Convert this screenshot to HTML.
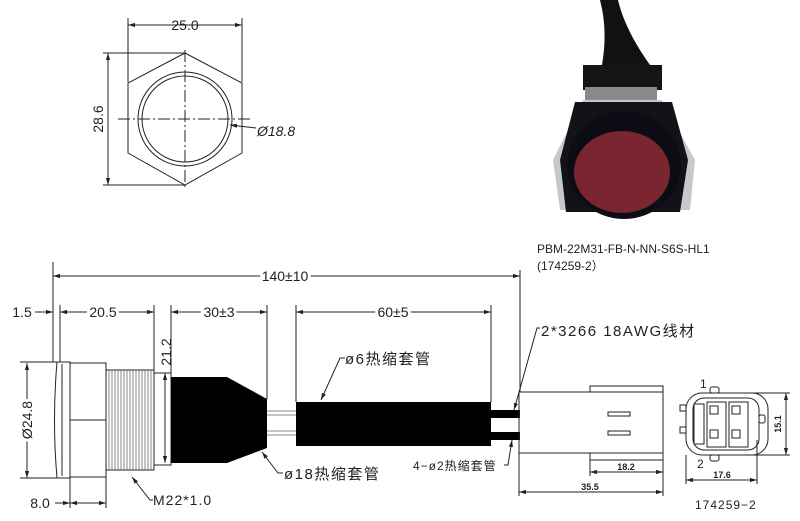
<!DOCTYPE html>
<html><head><meta charset="utf-8"><style>
html,body{margin:0;padding:0;background:#fff;}
svg{display:block}
text{font-family:"Liberation Sans","Noto Sans CJK SC",sans-serif;fill:#222}
</style></head><body>
<svg width="800" height="521" viewBox="0 0 800 521" xmlns="http://www.w3.org/2000/svg">
<defs>
<marker id="a" viewBox="0 0 10 10" refX="10" refY="5" markerWidth="7" markerHeight="7" orient="auto-start-reverse"><path d="M0,2 L10,5 L0,8 z" fill="#222"/></marker>
</defs>
<g stroke="#222" stroke-width="1" fill="none">
<line x1="128" y1="25" x2="242" y2="25" marker-start="url(#a)" marker-end="url(#a)"/>
<line x1="128" y1="18" x2="128" y2="82"/><line x1="242" y1="18" x2="242" y2="82"/>
<polygon points="185,53 242,83 242,153 185,185 128,153 128,83"/>
<circle cx="185" cy="119" r="47"/><circle cx="185" cy="119" r="43"/>
<line x1="108" y1="53" x2="108" y2="185" marker-start="url(#a)" marker-end="url(#a)"/>
<line x1="103" y1="53" x2="185" y2="53"/><line x1="103" y1="185" x2="185" y2="185"/>
<line x1="118" y1="119" x2="252" y2="119" stroke-dasharray="12,3,2,3"/>
<line x1="185" y1="50" x2="185" y2="190" stroke-dasharray="12,3,2,3"/>
<line x1="256" y1="128" x2="230" y2="125" marker-end="url(#a)"/>
</g>
<text x="185" y="30" font-size="14" text-anchor="middle">25.0</text>
<text transform="translate(103,119) rotate(-90)" font-size="14" text-anchor="middle">28.6</text>
<text x="257" y="136" font-size="14" font-style="italic">Ø18.8</text>

<!-- photo -->
<path d="M600,0 L618,0 Q625,30 650,65 L602,65 Q608,30 600,0 Z" fill="#111"/>
<rect x="583" y="65" width="79" height="25" fill="#151518"/>
<rect x="585" y="87" width="72" height="17" fill="#8a8a8c"/>
<polygon points="583,100 662,100 695,160 690,210 560,210 553,160" fill="#c8c8cc"/>
<polygon points="575,102 672,102 688,160 680,212 566,212 560,160" fill="#121218"/>
<ellipse cx="624" cy="165" rx="57" ry="54" fill="#0c0c14"/>
<ellipse cx="622" cy="172" rx="48" ry="41" fill="#7a2530"/>
<text x="537" y="253" font-size="12">PBM-22M31-FB-N-NN-S6S-HL1</text>
<text x="537" y="270" font-size="12">(174259-2）</text>

<g stroke="#222" stroke-width="1" fill="none">
<line x1="53" y1="276" x2="520" y2="276" marker-start="url(#a)" marker-end="url(#a)"/>
<line x1="53" y1="262" x2="53" y2="362"/><line x1="520" y1="270" x2="520" y2="392"/>
<line x1="35" y1="312" x2="53" y2="312" marker-end="url(#a)"/>
<line x1="60" y1="312" x2="154" y2="312" marker-start="url(#a)" marker-end="url(#a)"/>
<line x1="60" y1="305" x2="60" y2="362"/><line x1="154" y1="305" x2="154" y2="370"/>
<line x1="171" y1="312" x2="267" y2="312" marker-start="url(#a)" marker-end="url(#a)"/>
<line x1="171" y1="305" x2="171" y2="373"/><line x1="267" y1="305" x2="267" y2="399"/>
<line x1="296" y1="312" x2="491" y2="312" marker-start="url(#a)" marker-end="url(#a)"/>
<line x1="296" y1="305" x2="296" y2="402"/><line x1="491" y1="305" x2="491" y2="402"/>
<line x1="165" y1="373" x2="165" y2="463" marker-start="url(#a)" marker-end="url(#a)"/>
<path d="M57,362 L70,362 L70,478 L57,478 Q52,420 57,362 Z"/>
<line x1="62" y1="364" x2="62" y2="476"/>
<rect x="70" y="363" width="36" height="114"/><line x1="70" y1="420" x2="106" y2="420"/>
<rect x="106" y="370" width="48" height="100"/>
<rect x="154" y="373" width="17" height="92"/>
<line x1="27" y1="363" x2="27" y2="478" marker-start="url(#a)" marker-end="url(#a)"/>
<line x1="20" y1="362" x2="57" y2="362"/><line x1="20" y1="478" x2="57" y2="478"/>
<line x1="55" y1="503" x2="70" y2="503" marker-end="url(#a)"/>
<line x1="70" y1="503" x2="106" y2="503" marker-start="url(#a)" marker-end="url(#a)"/>
<line x1="70" y1="477" x2="70" y2="508"/><line x1="106" y1="477" x2="106" y2="508"/>
<line x1="267" y1="411" x2="296" y2="411" stroke="#888"/><line x1="267" y1="415" x2="296" y2="415" stroke="#888"/>
<line x1="267" y1="431" x2="296" y2="431" stroke="#888"/><line x1="267" y1="435" x2="296" y2="435" stroke="#888"/>
</g>
<g stroke="#666" stroke-width="0.8">
<path d="M109,370V470M112,370V470M115,370V470M118,370V470M121,370V470M124,370V470M127,370V470M130,370V470M133,370V470M136,370V470M139,370V470M142,370V470M145,370V470M148,370V470M151,370V470"/>
</g>
<polygon points="171,377 227,377 267,399 267,448 227,463 171,463" fill="#000"/>
<rect x="296" y="402" width="195" height="44" fill="#000"/>
<rect x="491" y="410" width="29" height="8" fill="#000"/>
<rect x="491" y="432" width="29" height="8" fill="#000"/>
<g stroke="#222" stroke-width="1" fill="none">
<rect x="519" y="392" width="144" height="61"/>
<path d="M590,392 V386 H663 V392 M590,453 V460 H663 V453"/>
<rect x="608" y="412" width="22" height="4"/><rect x="608" y="431" width="22" height="4"/>
<line x1="590" y1="472" x2="663" y2="472" marker-start="url(#a)" marker-end="url(#a)"/>
<line x1="590" y1="460" x2="590" y2="476"/><line x1="663" y1="460" x2="663" y2="496"/>
<line x1="519" y1="492" x2="663" y2="492" marker-start="url(#a)" marker-end="url(#a)"/>
<line x1="519" y1="453" x2="519" y2="496"/>
<rect x="686" y="393" width="82" height="62" rx="16"/>
<rect x="693" y="398" width="66" height="52" rx="11"/>
<path d="M694,404 h10 v40 h-10 z M707,402 h19 v45 h-19 z M729,402 h19 v45 h-19 z"/>
<rect x="710" y="406" width="8" height="8"/><rect x="732" y="406" width="8" height="8"/>
<rect x="710" y="430" width="8" height="8"/><rect x="732" y="430" width="8" height="8"/>
<rect x="710" y="387" width="9" height="6" rx="2"/><rect x="710" y="455" width="9" height="6" rx="2"/>
<rect x="680" y="405" width="6" height="6"/><rect x="680" y="427" width="6" height="6"/>
<rect x="759" y="415" width="6" height="8" rx="2"/>
<line x1="786" y1="393" x2="786" y2="455" marker-start="url(#a)" marker-end="url(#a)"/>
<line x1="740" y1="393" x2="790" y2="393"/><line x1="740" y1="455" x2="790" y2="455"/>
<line x1="686" y1="480" x2="757" y2="480" marker-start="url(#a)" marker-end="url(#a)"/>
<line x1="686" y1="455" x2="686" y2="484"/><line x1="757" y1="440" x2="757" y2="484"/>
<path d="M540,328 H537 L514,410" marker-end="url(#a)"/>
<path d="M504,465 H508 L512,440" marker-end="url(#a)"/>
<path d="M345,358 H340 L321,400" marker-end="url(#a)"/>
<path d="M283,473 H278 L262,452" marker-end="url(#a)"/>
<path d="M153,500 H150 L132,477" marker-end="url(#a)"/>
</g>
<text x="285" y="281" font-size="14" text-anchor="middle" stroke="#fff" stroke-width="6" paint-order="stroke">140±10</text>
<text x="22" y="317" font-size="14" text-anchor="middle">1.5</text>
<text x="103" y="317" font-size="14" text-anchor="middle" stroke="#fff" stroke-width="6" paint-order="stroke">20.5</text>
<text x="219" y="317" font-size="14" text-anchor="middle" stroke="#fff" stroke-width="6" paint-order="stroke">30±3</text>
<text x="393" y="317" font-size="14" text-anchor="middle" stroke="#fff" stroke-width="6" paint-order="stroke">60±5</text>
<text transform="translate(171,352) rotate(-90)" font-size="14" text-anchor="middle">21.2</text>
<text transform="translate(32,420) rotate(-90)" font-size="14" text-anchor="middle" stroke="#fff" stroke-width="6" paint-order="stroke">Ø24.8</text>
<text x="40" y="508" font-size="14" text-anchor="middle">8.0</text>
<text x="153" y="505" font-size="14" letter-spacing="1" font-family="Liberation Serif,serif">M22*1.0</text>
<text x="284" y="479" font-size="15" letter-spacing="1.5">ø18热缩套管</text>
<text x="345" y="364" font-size="15" letter-spacing="1.5">ø6热缩套管</text>
<text x="541" y="336" font-size="15" letter-spacing="1.5">2*3266 18AWG线材</text>
<text x="413" y="470" font-size="12" letter-spacing="1">4−ø2热缩套管</text>
<text x="626" y="470" font-size="9" font-weight="bold" text-anchor="middle">18.2</text>
<text x="590" y="490" font-size="9" font-weight="bold" text-anchor="middle">35.5</text>
<text x="722" y="478" font-size="9" font-weight="bold" text-anchor="middle">17.6</text>
<text transform="translate(781,424) rotate(-90)" font-size="9" font-weight="bold" text-anchor="middle">15.1</text>
<text x="700" y="388" font-size="12" font-family="Liberation Serif,serif">1</text>
<text x="697" y="468" font-size="12" font-family="Liberation Serif,serif">2</text>
<text x="695" y="509" font-size="12" letter-spacing="1">174259−2</text>
</svg>
</body></html>
